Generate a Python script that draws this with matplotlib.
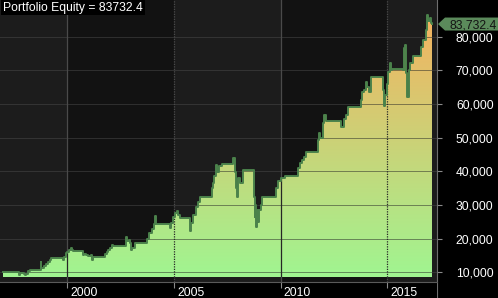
"""
Portfolio equity curve, drawn in the style of a trading-platform chart:
gradient area under a stepped equity line, 5-year shaded bands,
right-hand value axis with a tag for the last value.
"""

import numpy as np
import matplotlib
matplotlib.use('Agg')
import matplotlib.pyplot as plt
from matplotlib.colors import LinearSegmentedColormap
from matplotlib.patches import Polygon
from matplotlib.transforms import offset_copy

# equity (decimal year, value)
dates = [
    1996.99, 1997.70, 1997.74, 1997.78, 1997.95, 1998.02, 1998.08, 1998.15,
    1998.25, 1998.72, 1998.77, 1998.79, 1998.90, 1999.00, 1999.10, 1999.18,
    1999.24, 1999.70, 1999.78, 1999.85, 1999.94, 2000.00, 2000.10, 2000.18,
    2000.22, 2000.27, 2000.69, 2000.74, 2000.80, 2000.88, 2000.95, 2001.10,
    2001.16, 2001.20, 2001.67, 2001.75, 2001.85, 2001.91, 2002.00, 2002.10,
    2002.14, 2002.70, 2002.75, 2002.78, 2002.90, 2002.94, 2002.99, 2003.05,
    2003.17, 2003.64, 2003.74, 2003.85, 2003.97, 2004.05, 2004.10, 2004.14,
    2004.72, 2004.80, 2004.86, 2004.95, 2005.05, 2005.12, 2005.19, 2005.28,
    2005.70, 2005.75, 2005.80, 2005.90, 2006.03, 2006.12, 2006.22, 2006.69,
    2006.78, 2006.83, 2006.90, 2006.95, 2007.00, 2007.10, 2007.25, 2007.72,
    2007.78, 2007.84, 2007.90, 2007.94, 2007.98, 2008.09, 2008.23, 2008.70,
    2008.74, 2008.78, 2008.82, 2008.85, 2008.90, 2008.95, 2009.00, 2009.08,
    2009.13, 2009.73, 2009.80, 2009.90, 2010.00, 2010.20, 2010.72, 2010.81,
    2010.91, 2011.00, 2011.10, 2011.19, 2011.70, 2011.75, 2011.80, 2011.85,
    2011.99, 2012.05, 2012.12, 2012.74, 2012.85, 2012.95, 2013.05, 2013.16,
    2013.72, 2013.78, 2013.83, 2013.91, 2014.00, 2014.05, 2014.15, 2014.23,
    2014.75, 2014.80, 2014.85, 2014.89, 2014.98, 2015.05, 2015.12, 2015.16,
    2015.21, 2015.73, 2015.78, 2015.82, 2015.86, 2015.90, 2015.94, 2016.00,
    2016.06, 2016.20, 2016.53, 2016.60, 2016.70, 2016.80, 2016.88, 2016.93,
    2017.00, 2017.05, 2017.08,
]
equity = [
    10000, 10000, 9300, 9700, 9500, 9200, 9600, 10300,
    10700, 10700, 13000, 11200, 12000, 12600, 13000, 13800,
    14150, 14150, 13700, 14600, 15600, 16000, 16600, 17100,
    16600, 16300, 16300, 15100, 15500, 15100, 14800, 15000,
    13600, 14600, 14600, 15300, 16000, 16600, 17200, 18100,
    17800, 17800, 20400, 19400, 19600, 18600, 16500, 17300,
    18800, 18800, 20000, 21700, 23000, 24300, 26700, 24400,
    24350, 23300, 24500, 26500, 27500, 28200, 27000, 26000,
    26000, 22400, 24500, 27000, 29500, 31000, 32500, 32500,
    35000, 36500, 38500, 41900, 39900, 41500, 42200, 42200,
    44000, 39900, 35000, 32500, 38000, 36500, 40400, 40400,
    32500, 26500, 30000, 23500, 28500, 25000, 28500, 30000,
    32500, 32500, 35000, 37000, 38000, 38600, 38600, 41000,
    42400, 43500, 44300, 45800, 45800, 49300, 51500, 50000,
    54300, 56700, 55000, 55000, 53200, 55500, 56700, 59000,
    59000, 61200, 63600, 64100, 66600, 65100, 63600, 67900,
    67900, 64100, 59300, 62600, 66000, 69600, 72100, 70100,
    70400, 70100, 76600, 77500, 72000, 69200, 62200, 70000,
    72200, 74300, 74300, 77000, 79000, 82000, 86300, 84500,
    85500, 84000, 83732.4,
]
last_value = 83732.4

year_ticks = [2000, 2005, 2010, 2015]
value_ticks = [10000, 20000, 30000, 40000, 50000, 60000, 70000, 80000]

W, H = 498, 298
PLOT_W, DATE_H = 437, 16
X_RANGE = (1996.845, 2017.333)
Y_RANGE = (7120, 90870)
BASE = 8700

LABEL_FONT = dict(family=['Liberation Sans', 'DejaVu Sans'], size=8.7)

fig = plt.figure(figsize=(W / 100, H / 100), dpi=100)
fig.patch.set_facecolor('black')

# main chart area
ax = fig.add_axes([0, DATE_H / H, PLOT_W / W, 1 - DATE_H / H])
ax.set_facecolor('#1c1c1c')
for a, b in [(2000, 2005), (2010, 2015)]:
    ax.axvspan(a, b, color='#121212', lw=0, zorder=0)


def grid(color, zorder):
    lines = []
    for v in value_ticks:
        lines.append(ax.axhline(v, color=color, lw=0.72, ls=(0, (1, 1)), zorder=zorder))
    for yr in year_ticks:
        ls = '-' if yr % 10 == 0 else (0, (1, 1))
        lines.append(ax.axvline(yr, color=color, lw=0.9, ls=ls, zorder=zorder))
    return lines


grid('#4a4a4a', 1)

area = ax.fill_between(dates, equity, BASE, step='post', facecolor='none',
                       edgecolor='none', zorder=2)
clip = area.get_paths()[0]

cmap = LinearSegmentedColormap.from_list('eq', ['#a0f591', '#cad378', '#f5b260'])
grad = np.linspace(0, 1, 256).reshape(-1, 1)
im = ax.imshow(grad, extent=[dates[0], dates[-1], BASE, max(equity)], origin='lower',
               aspect='auto', cmap=cmap, interpolation='bilinear', zorder=2)
im.set_clip_path(clip, transform=ax.transData)

# grid shows dark where it crosses the filled area
for ln in grid('#262626', 3):
    ln.set_clip_path(clip, transform=ax.transData)

ax.step(dates, equity, where='post', color='#4b824b', lw=1.4, zorder=4)

ax.set_xlim(*X_RANGE)
ax.set_ylim(*Y_RANGE)
ax.set_xticks([])
ax.set_yticks([])
for s in ax.spines.values():
    s.set_visible(False)

# right value axis
vpp = (Y_RANGE[1] - Y_RANGE[0]) / (H - DATE_H)
ax2 = fig.add_axes([PLOT_W / W, 0, 1 - PLOT_W / W, 1])
ax2.set_facecolor('black')
ax2.set_xlim(0, W - PLOT_W)
ax2.set_ylim(Y_RANGE[0] - DATE_H * vpp, Y_RANGE[1])
for name, s in ax2.spines.items():
    s.set_visible(name == 'left')
ax2.spines['left'].set_color('#6e6e6e')
ax2.spines['left'].set_linewidth(0.8)
ax2.set_xticks([])
ax2.set_yticks(value_ticks)
ax2.tick_params(axis='y', direction='in', length=3.6, width=0.8, color='#8a8a8a',
                labelleft=False)
for v in value_ticks:
    ax2.text(56.5, v, f'{v:,}', ha='right', va='center_baseline', color='white',
             **LABEL_FONT)

h = 6.5 * vpp
tag = Polygon([(1, last_value), (8, last_value + h), (61, last_value + h),
               (61, last_value - h), (8, last_value - h)],
              closed=True, fc='#5b8a5b', ec='none', zorder=5)
ax2.add_patch(tag)
ax2.text(60, last_value, f'{last_value:,.1f}', ha='right', va='center_baseline',
         color='#141414', zorder=6, **LABEL_FONT)

# date axis
ax3 = fig.add_axes([0, 0, PLOT_W / W, DATE_H / H])
ax3.set_facecolor('black')
ax3.set_xlim(*X_RANGE)
ax3.set_ylim(0, DATE_H)
for name, s in ax3.spines.items():
    s.set_visible(name == 'top')
ax3.spines['top'].set_color('#5a5a5a')
ax3.spines['top'].set_linewidth(0.8)
ax3.set_yticks([])
ax3.set_xticks(year_ticks)
ax3.tick_params(axis='x', top=True, bottom=False, direction='in', length=4.3,
                width=0.8, color='#8a8a8a', labelbottom=False)
shift = offset_copy(ax3.transData, fig=fig, x=3, y=0, units='dots')
for yr in year_ticks:
    ax3.text(yr, 2, str(yr), transform=shift, ha='left', va='baseline',
             color='white', **LABEL_FONT)

fig.text(3 / W, 1 - 10.5 / H, f'Portfolio Equity = {last_value}', ha='left',
         va='baseline', color='white',
         bbox=dict(boxstyle='square,pad=0.15', fc='black', ec='none'), **LABEL_FONT)

fig.savefig('out.png', dpi=100, facecolor=fig.get_facecolor())
